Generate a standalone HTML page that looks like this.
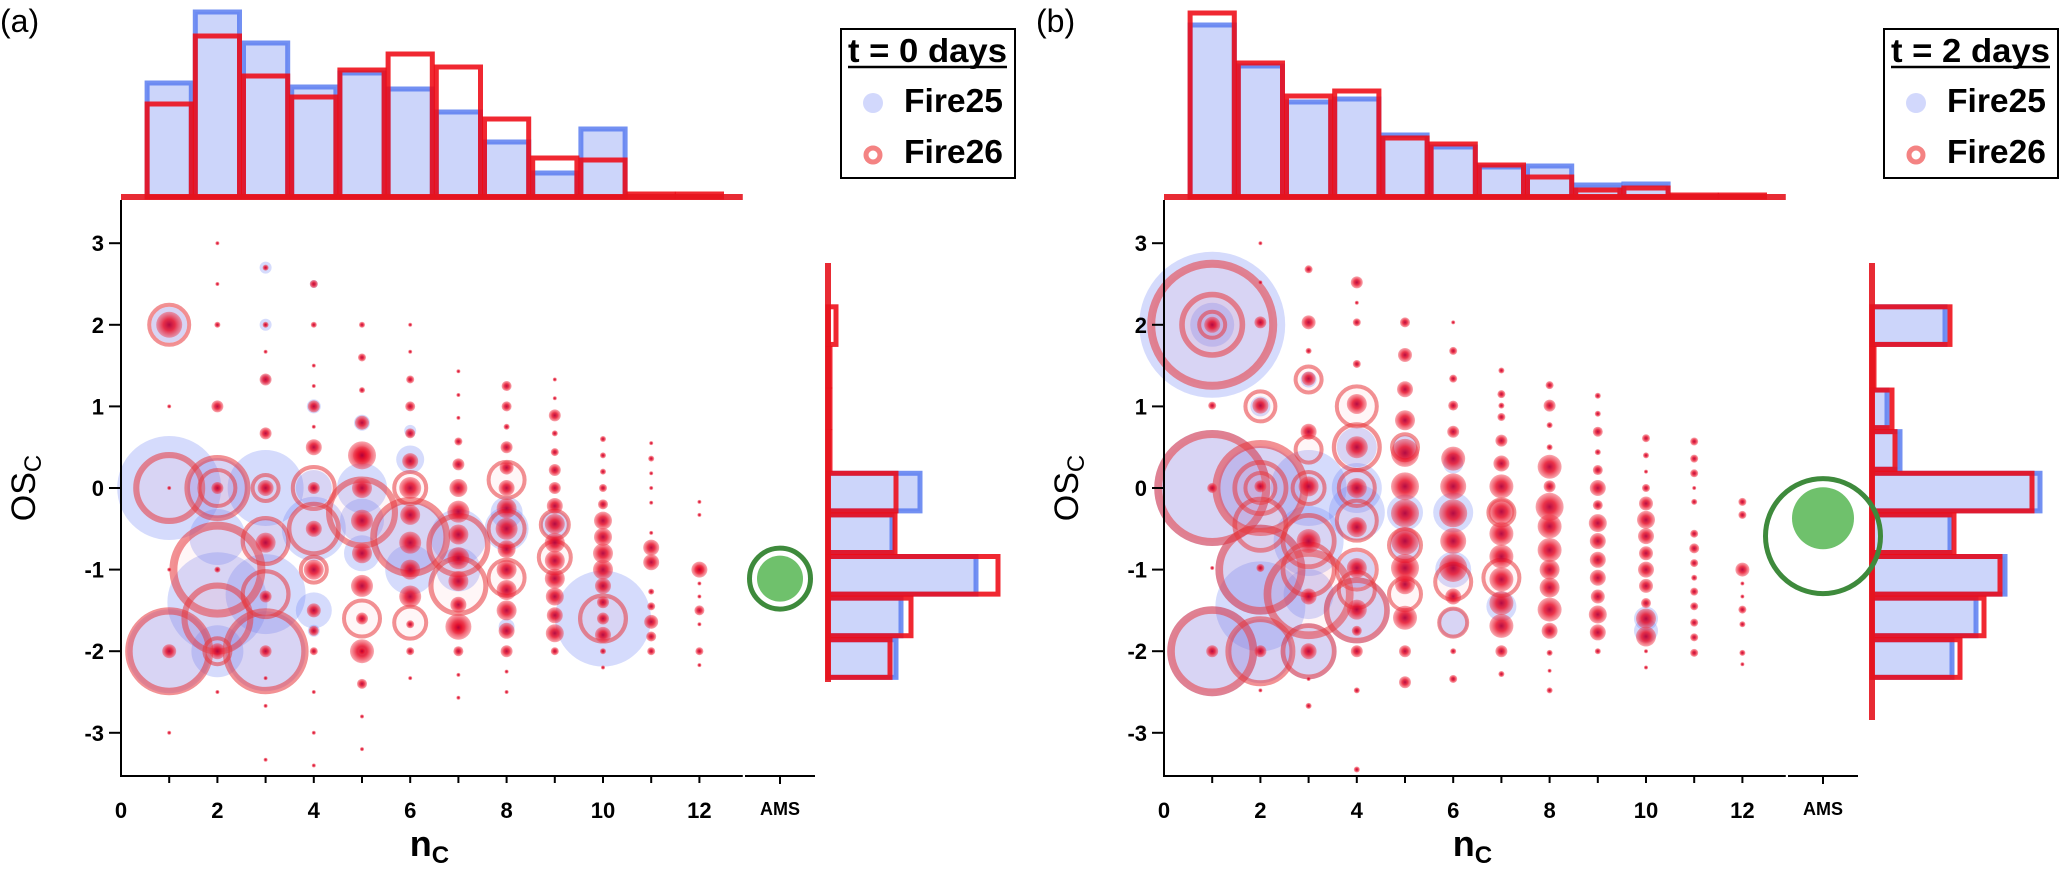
<!DOCTYPE html>
<html><head><meta charset="utf-8"><style>
html,body{margin:0;padding:0;background:#fff;}
svg{display:block;font-family:"Liberation Sans",Arial,sans-serif;}
</style></head><body>
<svg id="chart" width="2067" height="873" viewBox="0 0 2067 873" xmlns="http://www.w3.org/2000/svg">
<defs>
<radialGradient id="rdot"><stop offset="0" stop-color="#b0003a" stop-opacity="0.95"/><stop offset="0.45" stop-color="#e8102a" stop-opacity="0.85"/><stop offset="1" stop-color="#f04050" stop-opacity="0.45"/></radialGradient>
</defs>
<g id="root"></g>
</svg>
<script>
// ---------- data ----------
const yTicks = [3,2,1,0,-1,-2,-3];
const xTicks = [0,2,4,6,8,10,12];
const xMinor = [1,2,3,4,5,6,7,8,9,10,11,12];
const topBins = [1,2,3,4,5,6,7,8,9,10,11,12];
const aTopBlue = [114,185,154,110,124,108,85,55,24,68,0,0];
const aTopRed  = [93,161,121,100,127,143,130,78,39,37,3,3];
const bTopBlue = [172,131,95,98,62,50,30,31,12,13,0,0];
const bTopRed  = [184,134,101,106,59,53,32,20,7,9,2,2];
const sideBins = [1.99,1.48,0.97,0.46,-0.05,-0.56,-1.07,-1.58,-2.09];
const aSideBlue = [0,0,0,0,92,64,148,73,68];
const aSideRed  = [8,2,2,2,68,67,170,83,62];
const bSideBlue = [73,0,15,28,168,78,133,104,80];
const bSideRed  = [78,2,20,23,160,82,128,112,88];
const amsRingOS = [-1.11,-0.59];
const amsRingR = [33,60];
const amsFillOS = [-1.11,-0.37];
const amsFillR = [23,31];

const aBlue = [[1,0,52],[1,-2,42],[1,2,18],[2,0,30],[2,-0.6,28],[2,-1.4,50],[2,-2,26],[3,0,38],[3,-0.65,22],[3,-1.3,40],[3,-2,40],[4,-0.5,32],[4,0,18],[4,-1.5,18],[5,0,25],[5,-0.4,22],[5,-0.8,18],[6,-0.6,35],[6,0.35,14],[6,-1.0,25],[7,-0.6,28],[7,-1.0,22],[8,-0.5,22],[8,-0.3,16],[9,-0.45,14],[10,-1.6,48],[4,1,7],[5,0.8,8],[6,0.7,6],[3,2.7,6],[3,2,6],[4,2.5,4],[4,-1.75,6],[3,1.33,5],[8,-1.7,8]];
const aRed = [[1,2,22],[1,2,13],[1,0,36],[2,0,33],[2,0,20],[2,-1,48],[2,-1.6,36],[1,-2,44],[3,-2,43],[2,-2,15],[3,0,15],[3,-0.65,25],[3,-1.3,25],[4,0,23],[4,-0.5,27],[4,-1,15],[5,-0.3,36],[5,0.4,14],[5,-1.6,20],[5,-2,12],[6,-0.6,40],[6,0,18],[6,-1.65,18],[7,-0.7,32],[7,-1.2,30],[7,-1.7,13],[8,0.1,20],[8,-0.5,20],[8,-1.1,20],[9,-0.45,16],[9,-0.85,18],[10,-1.6,25],[12,-1,8],
[1,1,2],[1,0,2],[1,-1,2],[1,-2,7],[1,-3,2],
[2,3,2],[2,2.5,2],[2,2,3],[2,1,6],[2,0,6],[2,-1,3],[2,-2,8],[2,-2.5,2],
[3,2.7,3],[3,2,3],[3,1.67,2],[3,1.33,6],[3,0.67,6],[3,0,8],[3,-0.67,10],[3,-1.33,6],[3,-2,6],[3,-2.33,2],[3,-2.67,2],[3,-3.33,2],
[4,2.5,4],[4,2,3],[4,1.5,2],[4,1.25,2],[4,1,6],[4,0.75,2],[4,0.5,8],[4,0,6],[4,-0.5,8],[4,-1,10],[4,-1.5,7],[4,-1.75,5],[4,-2,4],[4,-2.5,2],[4,-3,2],[4,-3.4,2],
[5,2,3],[5,1.6,4],[5,1.2,3],[5,0.8,7],[5,0.4,9],[5,0,10],[5,-0.4,11],[5,-0.8,10],[5,-1.2,11],[5,-1.6,6],[5,-2,4],[5,-2.4,5],[5,-2.8,2],[5,-3.2,2],
[6,2,2],[6,1.67,2],[6,1.33,4],[6,1,5],[6,0.67,5],[6,0.33,8],[6,0,11],[6,-0.33,10],[6,-0.67,11],[6,-1,10],[6,-1.33,11],[6,-1.67,4],[6,-2,4],[6,-2.33,2],
[7,1.43,2],[7,1.14,2],[7,0.86,2],[7,0.57,4],[7,0.29,6],[7,0,9],[7,-0.29,11],[7,-0.57,10],[7,-0.86,11],[7,-1.14,10],[7,-1.43,8],[7,-1.71,7],[7,-2,5],[7,-2.29,2],[7,-2.57,2],
[8,1.25,5],[8,1,5],[8,0.75,3],[8,0.5,6],[8,0.25,7],[8,0,8],[8,-0.25,10],[8,-0.5,11],[8,-0.75,9],[8,-1,10],[8,-1.25,10],[8,-1.5,10],[8,-1.75,8],[8,-2,6],[8,-2.25,2],[8,-2.5,2],
[9,1.33,2],[9,1.1,2],[9,0.89,6],[9,0.67,3],[9,0.44,4],[9,0.22,6],[9,0,6],[9,-0.22,8],[9,-0.44,10],[9,-0.67,10],[9,-0.89,10],[9,-1.11,10],[9,-1.33,9],[9,-1.56,8],[9,-1.78,9],[9,-2,4],
[10,0.6,3],[10,0.4,3],[10,0.2,3],[10,0,4],[10,-0.2,5],[10,-0.4,9],[10,-0.6,9],[10,-0.8,10],[10,-1,10],[10,-1.2,8],[10,-1.4,6],[10,-1.6,6],[10,-1.8,8],[10,-2,3],[10,-2.2,2],
[11,0.55,2],[11,0.36,3],[11,0.18,2],[11,0,2],[11,-0.18,2],[11,-0.55,2],[11,-0.73,8],[11,-0.91,8],[11,-1.27,3],[11,-1.45,4],[11,-1.64,7],[11,-1.82,5],[11,-2,4],
[12,-0.17,2],[12,-0.33,2],[12,-1,5],[12,-1.17,2],[12,-1.33,2],[12,-1.5,5],[12,-1.67,2],[12,-2,4],[12,-2.17,2]];

const bBlue = [[1,2,73],[1,2,22],[1,0,58],[2,0,42],[3,0,38],[2,-1,45],[2,-1.45,45],[1,-2,45],[2,-2,32],[3,-0.65,35],[3,-1.3,25],[3,-2,28],[4,-1.5,33],[4,-0.3,28],[4,0,25],[4,0.5,20],[5,-0.3,18],[5,-0.7,15],[6,-0.3,20],[6,-1.0,18],[6,-1.65,15],[7,-1.45,15],[10,-1.6,12],[10,-1.75,12],[4,-1,18],[5,0.5,12],[6,0.3,10],[2,1,10],[3,1.33,8]];
const bRed = [[1,2,65],[1,2,33],[1,2,15],[1,0,58],[2,0,48],[2,0,28],[2,0,17],[2,-0.45,28],[2,-1,45],[3,-1.3,45],[1,-2,45],[2,-2,35],[3,-2,28],[3,0,18],[3,-0.65,28],[3,-1,28],[3,1.33,15],[2,1,17],[4,1,22],[4,0.5,25],[4,0,20],[4,-0.4,22],[4,-1,22],[4,-1.5,33],[4,-1.25,20],[5,0.5,15],[5,-1.3,18],[5,-0.7,18],[6,-1.15,20],[6,-1.65,16],[7,-1.1,20],[7,-0.3,15],[10,-1.6,10],[3,0.47,15],
[1,2,8],[1,1.01,4],[1,0,5],[1,-0.98,2],[1,-2,6],
[2,3,2],[2,2.52,2],[2,2.03,6],[2,1.01,8],[2,0.02,6],[2,-0.98,4],[2,-2,6],[2,-2.48,2],
[3,2.68,4],[3,2.03,7],[3,1.68,3],[3,1.34,7],[3,0.69,8],[3,0.02,10],[3,-0.65,12],[3,-1.33,8],[3,-2,8],[3,-2.34,2],[3,-2.67,3],
[4,2.52,6],[4,2.27,2],[4,2.03,4],[4,1.52,4],[4,1.03,10],[4,0.5,11],[4,0,10],[4,-0.48,10],[4,-0.98,10],[4,-1.49,10],[4,-1.75,5],[4,-2,6],[4,-2.48,3],[4,-3.45,3],
[5,2.03,5],[5,1.63,7],[5,1.21,8],[5,0.83,10],[5,0.43,14],[5,0.02,14],[5,-0.31,14],[5,-0.65,14],[5,-0.98,14],[5,-1.18,10],[5,-1.59,12],[5,-2,6],[5,-2.38,6],
[6,2.03,2],[6,1.68,4],[6,1.34,4],[6,1.01,5],[6,0.69,6],[6,0.36,12],[6,0.02,13],[6,-0.31,14],[6,-0.65,13],[6,-0.98,14],[6,-1.33,8],[6,-2,3],[6,-2.34,4],
[7,1.44,3],[7,1.15,4],[7,1.01,3],[7,0.87,4],[7,0.58,6],[7,0.3,8],[7,0.02,12],[7,-0.29,13],[7,-0.56,12],[7,-0.84,12],[7,-1.12,12],[7,-1.41,12],[7,-1.69,12],[7,-2,6],[7,-2.28,3],
[8,1.26,4],[8,1.01,6],[8,0.77,3],[8,0.5,3],[8,0.26,12],[8,0.02,6],[8,-0.23,14],[8,-0.47,12],[8,-0.76,12],[8,-1,10],[8,-1.22,10],[8,-1.49,12],[8,-1.75,8],[8,-2.02,3],[8,-2.24,2],[8,-2.48,3],
[9,1.13,3],[9,0.91,3],[9,0.69,5],[9,0.44,3],[9,0.22,5],[9,0,8],[9,-0.21,5],[9,-0.43,9],[9,-0.65,8],[9,-0.88,8],[9,-1.1,8],[9,-1.33,7],[9,-1.55,9],[9,-1.77,8],[9,-2,3],
[10,0.61,4],[10,0.4,3],[10,0.2,2],[10,0,4],[10,-0.19,7],[10,-0.39,9],[10,-0.59,8],[10,-0.8,7],[10,-1,8],[10,-1.2,7],[10,-1.41,5],[10,-1.82,10],[10,-2,2],[10,-2.2,2],
[11,0.57,4],[11,0.36,4],[11,0.18,4],[11,0,2],[11,-0.17,3],[11,-0.56,4],[11,-0.74,5],[11,-0.92,4],[11,-1.1,3],[11,-1.27,4],[11,-1.45,4],[11,-1.65,4],[11,-1.83,4],[11,-2.02,4],
[12,-0.17,4],[12,-0.33,4],[12,-1,7],[12,-1.17,2],[12,-1.33,2],[12,-1.49,4],[12,-1.67,3],[12,-2.02,3],[12,-2.16,2]];

// ---------- drawing ----------
const NS = "http://www.w3.org/2000/svg";
const root = document.getElementById('root');
const U = 48.2;
function Y(os){ return 488 - os*81.6; }
function mk(tag, attrs, parent){
  const e = document.createElementNS(NS, tag);
  for (const k in attrs) e.setAttribute(k, attrs[k]);
  (parent||root).appendChild(e);
  return e;
}
function panel(cfg){
  const x0 = cfg.x0;
  const X = n => x0 + n*U;
  const g = mk('g', {});
  
  

  // top histogram
  const th = mk('g', {}, g);
  
  
  const base = 197;
  topBins.forEach((n,i) => {
    const h = cfg.topBlue[i];
    if (h > 0) {
      const r = mk('rect', {x:X(n-0.5)+2, y:base-h, width:U-4, height:h, fill:'#ccd5fa', stroke:'rgba(90,125,240,0.85)', 'stroke-width':5}, th);
      
      
    }
  });
  topBins.forEach((n,i) => {
    const h = cfg.topRed[i];
    const r = mk('rect', {x:X(n-0.5)+2, y:base-h, width:U-4, height:h, fill:'none', stroke:'rgba(238,10,20,0.88)', 'stroke-width':5}, th);
    
    
  });
  mk('line', {x1:X(0), x2:X(12.9), y1:base, y2:base, stroke:'rgba(230,20,30,0.9)', 'stroke-width':6}, th);

  // side histogram
  const sh = mk('g', {}, g);
  
  
  const sx = cfg.sideX;
  const hw = 0.255;
  sideBins.forEach((c,i) => {
    const w = cfg.sideBlue[i];
    if (w > 0) {
      const r = mk('rect', {x:sx, y:Y(c+hw)+2, width:w, height:Y(c-hw)-Y(c+hw)-4, fill:'#ccd5fa', stroke:'rgba(90,125,240,0.85)', 'stroke-width':5}, sh);
      
      
    }
  });
  sideBins.forEach((c,i) => {
    const w = cfg.sideRed[i];
    const r = mk('rect', {x:sx, y:Y(c+hw)+2, width:w, height:Y(c-hw)-Y(c+hw)-4, fill:'none', stroke:'rgba(238,10,20,0.88)', 'stroke-width':5}, sh);
    
    
  });
  mk('line', {x1:sx, x2:sx, y1:263, y2:cfg.sideBottom, stroke:'rgba(230,20,30,0.9)', 'stroke-width':6}, sh);

  // bubbles
  const bg = mk('g', {}, g);
  
  
  cfg.blue.forEach(d => {
    const c = mk('circle', {cx:X(d[0]), cy:Y(d[1]), r:d[2], fill:'rgba(105,125,245,0.28)'}, bg);
    
    
  });
  cfg.red.forEach(d => {
    let c;
    if (d[2] < 15) {
      c = mk('circle', {cx:X(d[0]), cy:Y(d[1]), r:d[2], fill:'url(#rdot)'}, bg);
    } else {
      const sw = Math.max(4, Math.min(8, d[2]*0.17));
      c = mk('circle', {cx:X(d[0]), cy:Y(d[1]), r:d[2]-sw/2, fill:'rgba(255,140,150,0.08)', stroke:'rgba(232,55,60,0.55)', 'stroke-width':sw}, bg);
    }
    
    
  });

  // AMS marker
  const am = mk('g', {}, g);
  
  
  const ax = cfg.amsX;
  mk('circle', {cx:ax, cy:Y(amsFillOS[cfg.i]), r:amsFillR[cfg.i], fill:'#6fc16c'}, am);
  mk('circle', {cx:ax, cy:Y(amsRingOS[cfg.i]), r:amsRingR[cfg.i]-2.5, fill:'none', stroke:'#3e8a3c', 'stroke-width':5}, am);

  // axes
  const axg = mk('g', {}, g);
  
  
  mk('line', {x1:x0, x2:x0, y1:200, y2:777, stroke:'#000', 'stroke-width':2}, axg);
  mk('line', {x1:x0-1, x2:X(12.9), y1:776, y2:776, stroke:'#000', 'stroke-width':2}, axg);
  yTicks.forEach(v => {
    mk('line', {x1:x0-12, x2:x0, y1:Y(v), y2:Y(v), stroke:'#000', 'stroke-width':2}, axg);
    const t = mk('text', {x:x0-17, y:Y(v)+8, 'text-anchor':'end', 'font-size':22, 'font-weight':'bold', fill:'#000'}, axg);
    t.textContent = v;
    
    
  });
  xMinor.forEach(v => {
    mk('line', {x1:X(v), x2:X(v), y1:776, y2:783, stroke:'#000', 'stroke-width':2}, axg);
  });
  xTicks.forEach(v => {
    const t = mk('text', {x:X(v), y:818, 'text-anchor':'middle', 'font-size':22, 'font-weight':'bold', fill:'#000'}, axg);
    t.textContent = v;
    
    
  });
  mk('line', {x1:ax-35, x2:ax+35, y1:776, y2:776, stroke:'#000', 'stroke-width':2}, axg);
  mk('line', {x1:ax, x2:ax, y1:776, y2:784, stroke:'#000', 'stroke-width':2}, axg);
  const at = mk('text', {x:ax, y:815, 'text-anchor':'middle', 'font-size':18, 'font-weight':'bold', fill:'#000'}, axg);
  at.textContent = 'AMS';
  
  

  // axis titles
  const yl = mk('text', {transform:`translate(${x0-86},488) rotate(-90)`, 'text-anchor':'middle', 'font-size':34, fill:'#000'}, g);
  yl.innerHTML = 'OS<tspan font-size="24" dy="6">C</tspan>';
  
  
  const xl = mk('text', {x:X(6.4), y:856, 'text-anchor':'middle', 'font-size':36, 'font-weight':'bold', fill:'#000'}, g);
  xl.innerHTML = 'n<tspan font-size="24" dy="7">C</tspan>';
  
  

  // panel label
  const pl = mk('text', {x:cfg.labelX, y:32, 'font-size':32, fill:'#000'}, g);
  pl.textContent = cfg.label;
  
  

  // legend
  const lg = mk('g', {}, g);
  
  
  const lx = cfg.legendX;
  mk('rect', {x:lx, y:29, width:174, height:149, fill:'#fff', stroke:'#000', 'stroke-width':2}, lg);
  const tt = mk('text', {x:lx+7, y:62, 'font-size':33, 'font-weight':'bold', fill:'#000', textLength:159, lengthAdjust:'spacingAndGlyphs'}, lg);
  tt.textContent = cfg.title;
  
  
  mk('line', {x1:lx+7, x2:lx+166, y1:67, y2:67, stroke:'#000', 'stroke-width':2.5}, lg);
  mk('circle', {cx:lx+32, cy:103, r:10, fill:'rgba(105,125,245,0.3)'}, lg);
  const t1 = mk('text', {x:lx+63, y:112, 'font-size':33, 'font-weight':'bold', fill:'#000', textLength:99, lengthAdjust:'spacingAndGlyphs'}, lg);
  t1.textContent = 'Fire25';
  
  
  mk('circle', {cx:lx+32, cy:155, r:7, fill:'none', stroke:'rgba(240,90,90,0.75)', 'stroke-width':5}, lg);
  const t2 = mk('text', {x:lx+63, y:163, 'font-size':33, 'font-weight':'bold', fill:'#000', textLength:99, lengthAdjust:'spacingAndGlyphs'}, lg);
  t2.textContent = 'Fire26';
  
  
}

panel({key:'panel-a', i:0, x0:121, sideX:828, sideBottom:682, amsX:780, labelX:0, legendX:841, label:'(a)', title:'t = 0 days',
  topBlue:aTopBlue, topRed:aTopRed, sideBlue:aSideBlue, sideRed:aSideRed, blue:aBlue, red:aRed});
panel({key:'panel-b', i:1, x0:1164, sideX:1872, sideBottom:720, amsX:1823, labelX:1036, legendX:1884, label:'(b)', title:'t = 2 days',
  topBlue:bTopBlue, topRed:bTopRed, sideBlue:bSideBlue, sideRed:bSideRed, blue:bBlue, red:bRed});
</script>
</body></html>
